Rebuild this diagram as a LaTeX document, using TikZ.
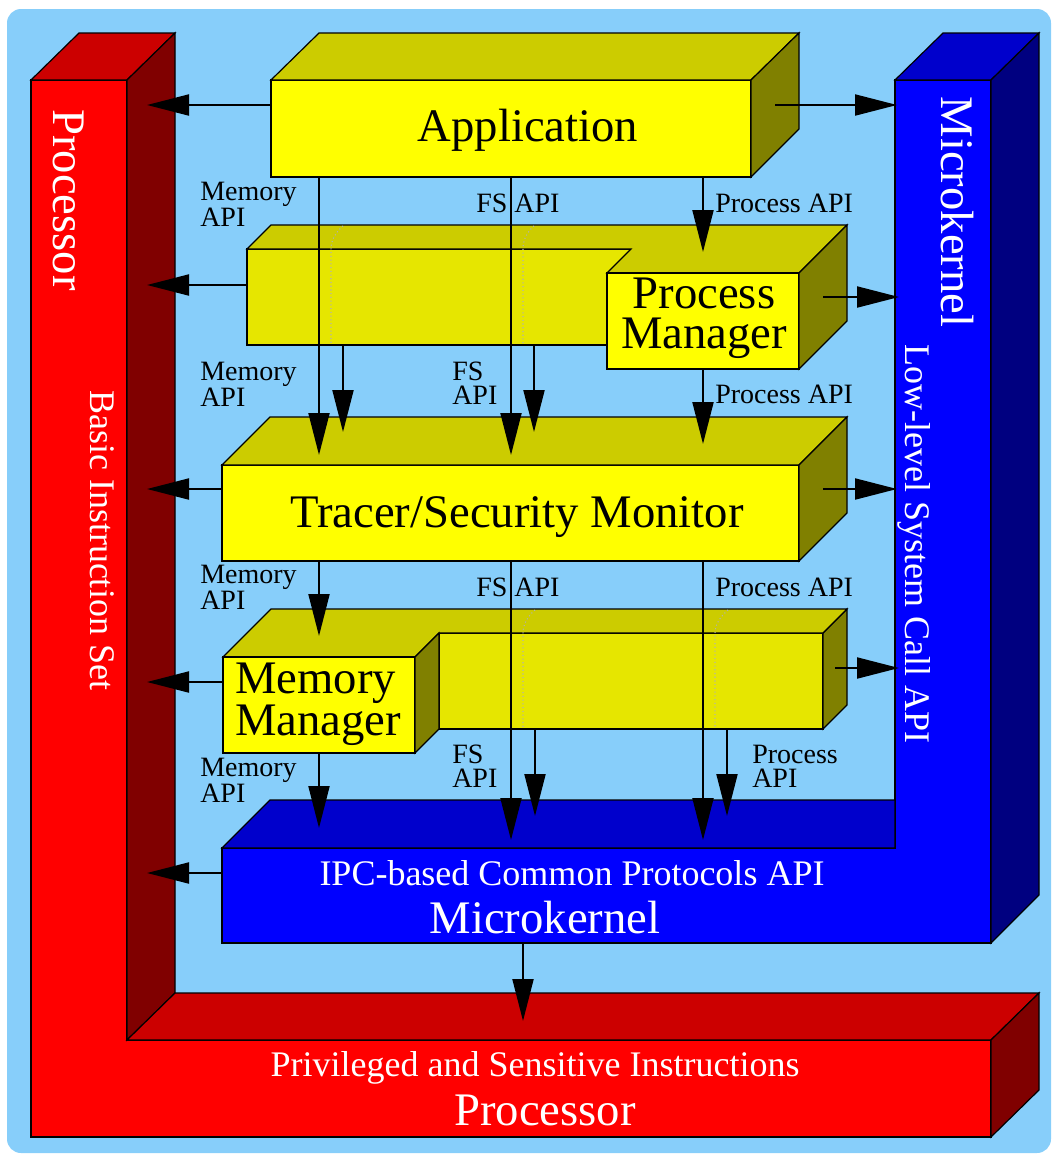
\documentclass[tikz,border=0pt]{standalone}
\usepackage{fontspec}
\setmainfont{Liberation Serif}
\usetikzlibrary{arrows.meta}
\definecolor{skybg}{HTML}{87CEFA}
\definecolor{yfront}{HTML}{FFFF00}
\definecolor{ytop}{HTML}{CCCC00}
\definecolor{yside}{HTML}{808000}
\definecolor{yback}{HTML}{E6E600}
\definecolor{rfront}{HTML}{FF0000}
\definecolor{rtop}{HTML}{CC0000}
\definecolor{rside}{HTML}{800000}
\definecolor{bfront}{HTML}{0000FF}
\definecolor{btop}{HTML}{0000CC}
\definecolor{bside}{HTML}{000080}
\tikzset{
  face/.style={draw=black, line width=0.9pt, line join=miter},
  link/.style={line width=1.5pt, -{Triangle[length=31.5pt,width=15.75pt]}},
  hiddenedge/.style={draw=black!30, dotted, line width=0.8pt},
  bigtext/.style={font=\fontsize{35}{30}\selectfont, inner sep=0pt, anchor=base},
  midtext/.style={font=\fontsize{27}{30}\selectfont, text=white, inner sep=0pt, anchor=base},
  api/.style={font=\fontsize{21}{18}\selectfont, inner sep=0pt, anchor=north west, align=left},
}
\begin{document}
\begin{tikzpicture}[x=0.75pt,y=-0.75pt]
\useasboundingbox (0,0) rectangle (1052,1154);
\fill[skybg, rounded corners=10.5pt] (7,9) rectangle (1051,1153);

% ---------------- Processor (red L-shaped block)
\filldraw[face, fill=rfront] (31,80) -- (127,80) -- (127,1040) -- (991,1040) -- (991,1137) -- (31,1137) -- cycle;
\filldraw[face, fill=rtop] (31,80) -- (79,33) -- (175,33) -- (127,80) -- cycle;
\filldraw[face, fill=rside] (127,80) -- (175,33) -- (175,993) -- (127,1040) -- cycle;
\filldraw[face, fill=rtop] (127,1040) -- (175,993) -- (1039,993) -- (991,1040) -- cycle;
\filldraw[face, fill=rside] (991,1040) -- (1039,993) -- (1039,1090) -- (991,1137) -- cycle;

\node[bigtext, text=white, rotate=-90] (cpuV) at (53,200) {Processor};
\node[midtext, rotate=-90] (cpuBasic) at (90,540) {Basic Instruction Set};
\node[midtext] (cpuPriv) at (535,1076) {Privileged and Sensitive Instructions};
\node[bigtext, text=white] (cpuH) at (545,1125) {Processor};

% ---------------- Microkernel (blue L-shaped block)
\filldraw[face, fill=bfront] (895,80) -- (991,80) -- (991,943) -- (222,943) -- (222,848) -- (895,848) -- cycle;
\filldraw[face, fill=btop] (895,80) -- (943,33) -- (1039,33) -- (991,80) -- cycle;
\filldraw[face, fill=bside] (991,80) -- (1039,33) -- (1039,895) -- (991,943) -- cycle;
\filldraw[face, fill=btop] (222,848) -- (270,800) -- (895,800) -- (895,848) -- cycle;

\node[bigtext, text=white, rotate=-90] (mkV) at (941,212) {Microkernel};
\node[midtext, rotate=-90] (mkLow) at (905,544) {Low-level System Call API};
\node[midtext] (mkIPC) at (572,885) {IPC-based Common Protocols API};
\node[bigtext, text=white] (mkH) at (545,933) {Microkernel};

% ---------------- Application
\filldraw[face, fill=yfront] (271,80) rectangle (751,177);
\filldraw[face, fill=ytop] (271,80) -- (319,33) -- (799,33) -- (751,80) -- cycle;
\filldraw[face, fill=yside] (751,80) -- (799,33) -- (799,129) -- (751,177) -- cycle;
\node[bigtext] (app) at (528,141) {Application};

% ---------------- Process Manager row (manager block in front of a half-depth slab)
\filldraw[face, fill=yback] (247,249) rectangle (631,345);
\filldraw[face, fill=ytop] (247,249) -- (271,225) -- (847,225) -- (799,273) -- (607,273) -- (631,249) -- cycle;
\filldraw[face, fill=yfront] (607,273) rectangle (799,369);
\filldraw[face, fill=yside] (799,273) -- (847,225) -- (847,321) -- (799,369) -- cycle;
\draw[hiddenedge] (343,226) .. controls (336,232) and (331,240) .. (331,249) -- (331,344);
\draw[hiddenedge] (534,226) .. controls (527,232) and (523,240) .. (523,249) -- (523,344);
\node[bigtext, anchor=north, align=center] (pm) at (704,277.4) {Process\\Manager};

% ---------------- Tracer/Security Monitor
\filldraw[face, fill=yfront] (222,465) rectangle (799,561);
\filldraw[face, fill=ytop] (222,465) -- (270,417) -- (847,417) -- (799,465) -- cycle;
\filldraw[face, fill=yside] (799,465) -- (847,417) -- (847,513) -- (799,561) -- cycle;
\node[bigtext] (tsm) at (517,527) {Tracer/Security Monitor};

% ---------------- Memory Manager row (manager block in front of a half-depth slab)
\filldraw[face, fill=yback] (439,633) rectangle (823,729);
\filldraw[face, fill=yside] (823,633) -- (847,609) -- (847,705) -- (823,729) -- cycle;
\filldraw[face, fill=ytop] (223,657) -- (271,609) -- (847,609) -- (823,633) -- (439,633) -- (415,657) -- cycle;
\filldraw[face, fill=yfront] (223,657) rectangle (415,753);
\filldraw[face, fill=yside] (415,657) -- (439,633) -- (439,729) -- (415,753) -- cycle;
\draw[hiddenedge] (535,610) .. controls (528,616) and (523,624) .. (523,633) -- (523,728);
\draw[hiddenedge] (728,610) .. controls (721,616) and (715,624) .. (715,633) -- (715,728);
\node[bigtext, anchor=north west, align=left] (mm) at (235,662.4) {Memory\\Manager};

% ---------------- connector end points
% towards the Processor
\coordinate (appW) at (271,105);   \coordinate (cpu1) at (147,105);
\coordinate (pmW)  at (247,285);   \coordinate (cpu2) at (147,285);
\coordinate (tsmW) at (222,489);   \coordinate (cpu3) at (147,489);
\coordinate (mmW)  at (223,682);   \coordinate (cpu4) at (147,682);
\coordinate (mkW)  at (222,873);   \coordinate (cpu5) at (147,873);
\coordinate (mkS)  at (523,943);   \coordinate (cpu6) at (523,1021);
% towards the Microkernel
\coordinate (appE) at (775,105);   \coordinate (mk1) at (897,105);
\coordinate (pmE)  at (823,297);   \coordinate (mk2) at (899,297);
\coordinate (tsmE) at (823,489);   \coordinate (mk3) at (897,489);
\coordinate (mmE)  at (835,668);   \coordinate (mk4) at (899,668);
% downward API flows
\coordinate (appMem)  at (319,177); \coordinate (tsmMemIn)  at (319,455);
\coordinate (appFS)   at (511,177); \coordinate (tsmFSIn)   at (511,455);
\coordinate (appProc) at (703,177); \coordinate (pmIn)      at (703,252);
\coordinate (pmMem)   at (343,345); \coordinate (tsmMemIn2) at (343,432);
\coordinate (pmFS)    at (534,345); \coordinate (tsmFSIn2)  at (534,432);
\coordinate (pmProc)  at (703,369); \coordinate (tsmProcIn) at (703,444);
\coordinate (tsmMem)  at (319,561); \coordinate (mmIn)      at (319,636);
\coordinate (tsmFS)   at (511,561); \coordinate (mkFSIn)    at (511,840);
\coordinate (tsmProc) at (703,561); \coordinate (mkProcIn)  at (703,840);
\coordinate (mmMem)   at (319,753); \coordinate (mkMemIn)   at (319,828);
\coordinate (mmFS)    at (535,729); \coordinate (mkFSIn2)   at (535,816);
\coordinate (mmProc)  at (727,729); \coordinate (mkProcIn2) at (727,816);

\foreach \a/\b in {appW/cpu1, pmW/cpu2, tsmW/cpu3, mmW/cpu4, mkW/cpu5, mkS/cpu6,
                   appE/mk1, pmE/mk2, tsmE/mk3, mmE/mk4,
                   appMem/tsmMemIn, appFS/tsmFSIn, appProc/pmIn,
                   pmMem/tsmMemIn2, pmFS/tsmFSIn2, pmProc/tsmProcIn,
                   tsmMem/mmIn, tsmFS/mkFSIn, tsmProc/mkProcIn,
                   mmMem/mkMemIn, mmFS/mkFSIn2, mmProc/mkProcIn2}
  \draw[link] (\a) -- (\b);

% ---------------- API labels
\node[api] (l1a) at (200,181.7) {Memory\\API};
\node[api] (l1c) at (476,193.7) {FS API};
\node[api] (l1d) at (715,193.7) {Process API};

\node[api] (l2a) at (200,361.7) {Memory\\API};
\node[api] (l2c) at (452,361.7) {FS\\API};
\node[api] (l2e) at (715,384.7) {Process API};

\node[api] (l3a) at (200,564.7) {Memory\\API};
\node[api] (l3c) at (476,577.7) {FS API};
\node[api] (l3d) at (715,577.7) {Process API};

\node[api] (l4a) at (200,757.7) {Memory\\API};
\node[api] (l4c) at (452,744.7) {FS\\API};
\node[api] (l4e) at (752,744.7) {Process\\API};
\end{tikzpicture}
\end{document}
